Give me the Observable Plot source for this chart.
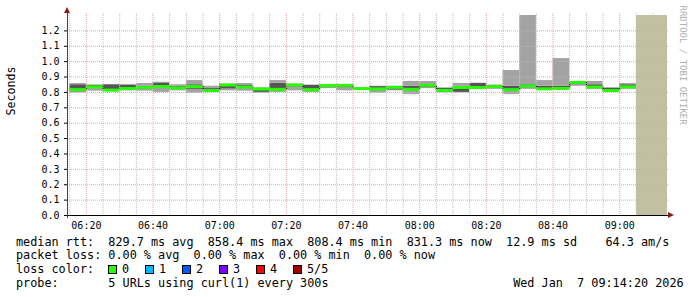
<!DOCTYPE html>
<html><head><meta charset="utf-8">
<script src="https://cdn.jsdelivr.net/npm/d3@7"></script>
<script src="https://cdn.jsdelivr.net/npm/@observablehq/plot@0.6"></script>
<style>
html,body{margin:0;padding:0;background:#fff;}
body{width:697px;height:297px;position:relative;overflow:hidden;font-family:"DejaVu Sans Mono",monospace;}
#chart svg{display:block;}
.lg{position:absolute;font-size:11.8px;line-height:14px;white-space:pre;color:#000;}
.bx{position:absolute;width:9px;height:9px;box-sizing:border-box;border:1px solid #000;}
</style>
</head><body>
<div id="chart"></div>
<div id="legend"></div>
<script>
// ---- data (5-minute steps, start times, values in seconds) ----
const stepStarts = ["06:15","06:20","06:25","06:30","06:35","06:40","06:45","06:50","06:55",
  "07:00","07:05","07:10","07:15","07:20","07:25","07:30","07:35","07:40","07:45","07:50","07:55",
  "08:00","08:05","08:10","08:15","08:20","08:25","08:30","08:35","08:40","08:45","08:50","08:55","09:00"];
const pingMin = [0.797,0.808,0.805,0.810,0.808,0.800,0.810,0.795,0.805,0.810,0.808,0.795,0.800,0.810,0.800,0.825,0.810,0.820,0.795,0.810,0.787,0.825,0.797,0.797,0.820,0.820,0.787,0.820,0.815,0.815,0.840,0.820,0.800,0.820];
const ping2   = [0.803,0.826,0.810,0.815,0.820,0.830,0.822,0.820,0.808,0.822,0.825,0.800,0.812,0.835,0.805,0.830,0.830,0.822,0.810,0.815,0.810,0.830,0.800,0.800,0.825,0.830,0.810,0.830,0.820,0.820,0.850,0.825,0.805,0.826];
const median  = [0.818,0.836,0.815,0.825,0.832,0.838,0.830,0.838,0.812,0.848,0.835,0.822,0.820,0.848,0.818,0.845,0.846,0.825,0.823,0.833,0.820,0.846,0.813,0.832,0.832,0.838,0.818,0.842,0.823,0.826,0.865,0.835,0.812,0.836];
const ping4   = [0.850,0.846,0.850,0.848,0.840,0.862,0.840,0.850,0.825,0.852,0.845,0.826,0.860,0.852,0.846,0.850,0.850,0.828,0.838,0.838,0.840,0.850,0.826,0.840,0.858,0.845,0.840,0.850,0.840,0.840,0.868,0.850,0.828,0.850];
const pingMax = [0.858,0.849,0.852,0.852,0.858,0.866,0.850,0.877,0.840,0.855,0.858,0.830,0.877,0.855,0.848,0.852,0.852,0.830,0.840,0.840,0.871,0.871,0.830,0.858,0.860,0.848,0.942,1.450,0.877,1.020,0.870,0.871,0.830,0.858];
const lossCount = [0,0,0,0,0,0,0,0,0,0,0,0,0,0,0,0,0,0,0,0,0,0,0,0,0,0,0,0,0,0,0,0,0,0];
const unknownStarts = ["09:05"];
const windowStart = "06:14:20", windowEnd = "09:14:20";
const xTickLabels = ["06:20","06:40","07:00","07:20","07:40","08:00","08:20","08:40","09:00"];
const yTickValues = [0,0.1,0.2,0.3,0.4,0.5,0.6,0.7,0.8,0.9,1.0,1.1,1.2];
const lossLabels = ["0","1","2","3","4","5/5"];
const lossColors = ["#26ff00","#00b8ff","#0059ff","#7e00ff","#ff0000","#a10000"];
const legendLines = [
  "median rtt:  829.7 ms avg  858.4 ms max  808.4 ms min  831.3 ms now  12.9 ms sd    64.3 am/s",
  "packet loss: 0.00 % avg  0.00 % max  0.00 % min  0.00 % now",
  "loss color:",
  "probe:       5 URLs using curl(1) every 300s                          Wed Jan  7 09:14:20 2026"
];

// ---- layout ----
const legendTop = [234.5,248.3,262.2,276.2];
const boxX = [108,145,182,219,256,293];

const parseT = s => { const p = s.split(":").map(Number); return new Date(2026,0,7,p[0],p[1],p[2]||0); };
const STEP = 5*60*1000;
const rows = stepStarts.map((s,i) => {
  const start = parseT(s);
  return {start, end: new Date(+start+STEP), min: pingMin[i], q2: ping2[i], med: median[i], q4: ping4[i], max: pingMax[i], loss: lossCount[i]};
});
const trans = rows.slice(1).map((d,i) => ({t: d.start, a: rows[i].med, b: d.med}));
const unknown = unknownStarts.map(s => ({start: parseT(s), end: parseT(windowEnd)}));
const t0 = parseT(windowStart), t1 = parseT(windowEnd);
const xTicks = xTickLabels.map(parseT);
const minorGrid = d3.timeMinute.every(5).range(t0, t1).filter(d => d.getMinutes() % 20 !== 0);
const majorGrid = d3.timeMinute.every(20).range(t0, t1);

const light = "#a3a3a3", dark = "#555555";
const minorCol = "#c0c0c0", majorCol = "#eea0a0";

const plot = Plot.plot({
  width: 697, height: 235,
  marginLeft: 67, marginRight: 30, marginTop: 15, marginBottom: 20,
  style: {fontFamily: '"DejaVu Sans Mono", monospace', fontSize: "10px", background: "#fff", color: "#000", overflow: "visible"},
  x: {type: "time", domain: [t0, t1], ticks: xTicks, tickFormat: d3.timeFormat("%H:%M"), tickSize: 0, tickPadding: 6.5, label: null},
  y: {domain: [0, 1.3], ticks: yTickValues, tickFormat: d3.format(".1f"), tickSize: 3, tickPadding: 5, label: null},
  marks: [
    Plot.rect(rows, {x1: "start", x2: "end", y1: "min", y2: "q2", fill: light, clip: true}),
    Plot.rect(rows, {x1: "start", x2: "end", y1: "q2", y2: "q4", fill: dark, clip: true}),
    Plot.rect(rows, {x1: "start", x2: "end", y1: "q4", y2: "max", fill: light, clip: true}),
    Plot.rect(unknown, {x1: "start", x2: "end", fill: "#c2c0a0"}),
    Plot.ruleX(trans, {x: "t", y1: "a", y2: "b", stroke: "#000", strokeWidth: 1}),
    Plot.ruleY(rows, {x1: "start", x2: "end", y: "med", stroke: d => lossColors[d.loss], strokeWidth: 3}),
    Plot.ruleX(minorGrid, {stroke: minorCol, strokeDasharray: "1,1", insetTop: -2}),
    Plot.ruleX(majorGrid, {stroke: majorCol, strokeDasharray: "1,1", insetTop: -2}),
    Plot.ruleY(yTickValues.filter(v => v > 0), {stroke: majorCol, strokeDasharray: "1,1", insetRight: -1}),
    Plot.ruleY([0], {stroke: "#000", insetLeft: -3, insetRight: -3}),
    Plot.ruleX([t0], {stroke: "#444", insetTop: -5, insetBottom: -3}),
    Plot.text(["Seconds"], {frameAnchor: "left", rotate: -90, dx: -56, fontSize: 11.6, fill: "#000"}),
    Plot.text(["RRDTOOL / TOBI OETIKER"], {frameAnchor: "top-right", rotate: 90, textAnchor: "start", dx: 19, dy: -10, fontSize: 9, fill: "#b0b0b0"})
  ]
});
document.getElementById("chart").appendChild(plot);

// axis arrows
const svgSel = d3.select(plot);
const xs = plot.scale("x"), ys = plot.scale("y");
const axX = xs.apply(t0), axY = ys.apply(0), yTopPx = ys.apply(1.3), xRightPx = xs.apply(t1);
svgSel.append("path").attr("d", `M${axX-3},${yTopPx-2}L${axX+3},${yTopPx-2}L${axX},${yTopPx-8}Z`).attr("fill", "#8b1a1a");
svgSel.append("path").attr("d", `M${xRightPx+1},${axY-3}L${xRightPx+1},${axY+3}L${xRightPx+7},${axY}Z`).attr("fill", "#8b1a1a");

// legend
const lgEl = document.getElementById("legend");
legendLines.forEach((txt, li) => {
  const s = document.createElement("div");
  s.className = "lg"; s.textContent = txt;
  s.style.left = "16px"; s.style.top = legendTop[li] + "px";
  lgEl.appendChild(s);
});
lossLabels.forEach((lab, i) => {
  const b = document.createElement("div");
  b.className = "bx"; b.style.background = lossColors[i];
  b.style.left = boxX[i] + "px"; b.style.top = "264.5px";
  lgEl.appendChild(b);
  const t = document.createElement("div");
  t.className = "lg"; t.textContent = lab;
  t.style.left = (boxX[i] + 14) + "px"; t.style.top = legendTop[2] + "px";
  lgEl.appendChild(t);
});
</script>
</body></html>
